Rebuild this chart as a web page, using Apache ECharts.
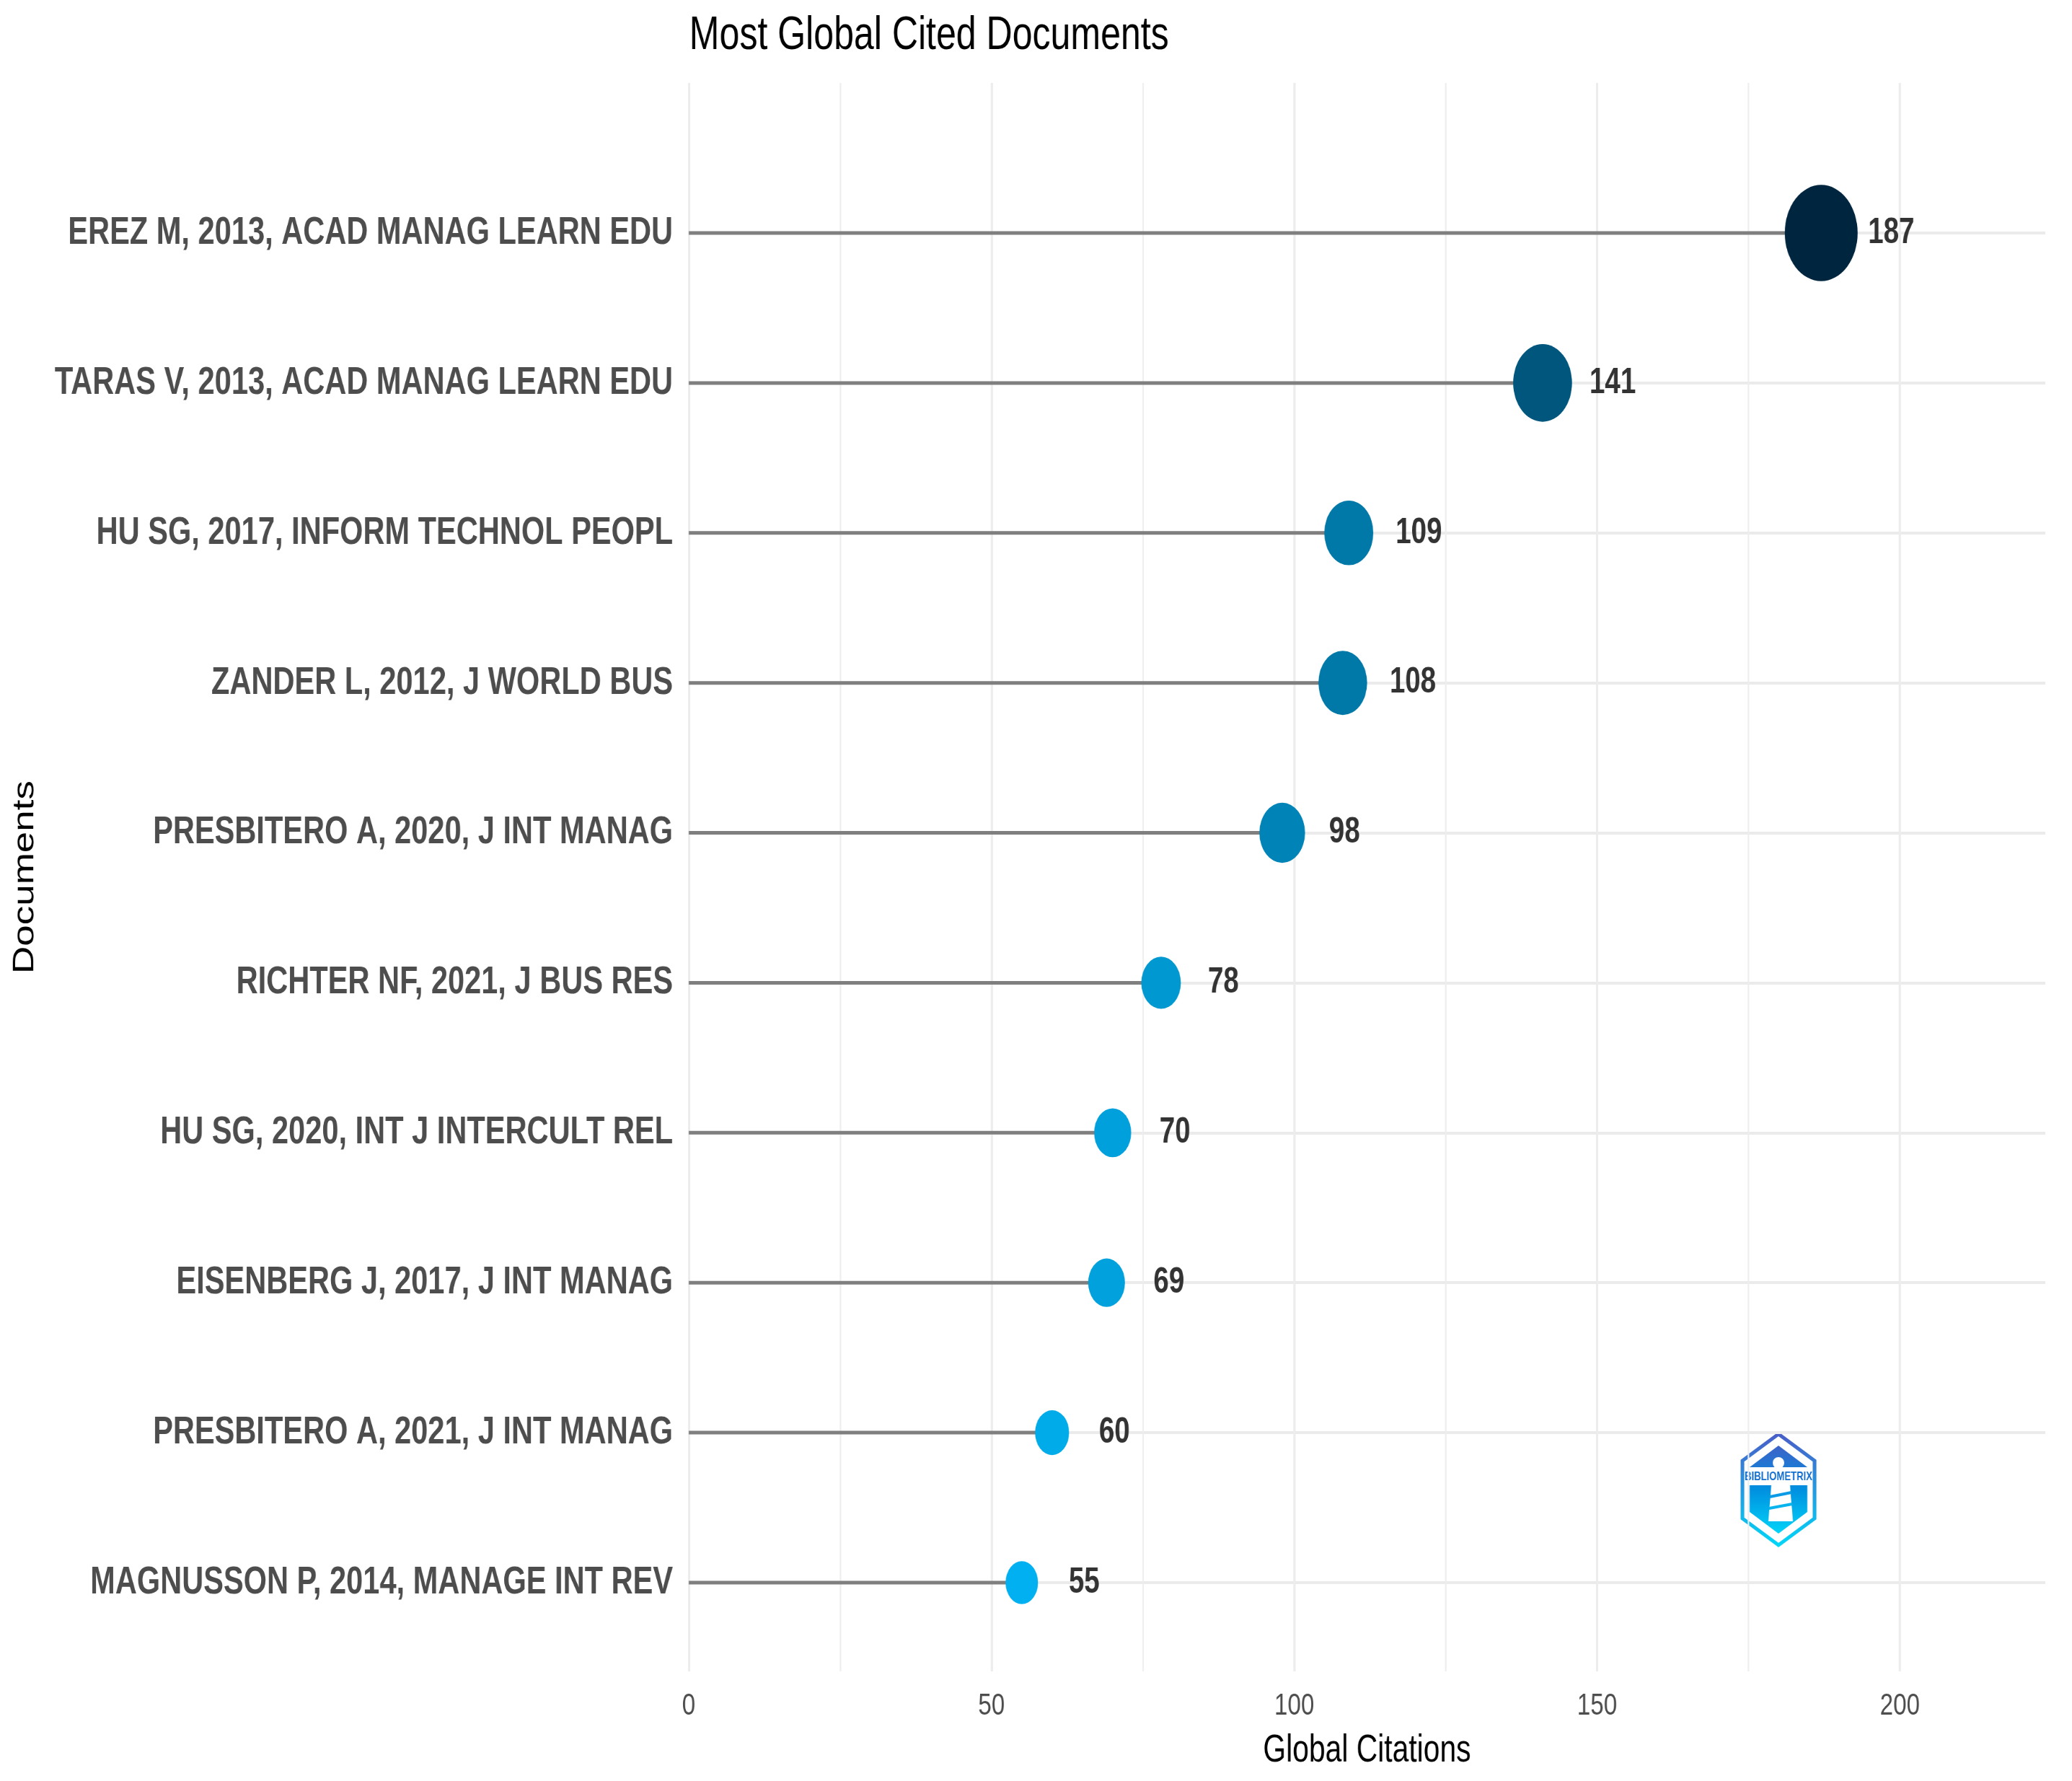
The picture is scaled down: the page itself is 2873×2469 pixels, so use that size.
<!DOCTYPE html>
<html>
<head>
<meta charset="utf-8">
<script src="https://cdn.jsdelivr.net/npm/echarts@6/dist/echarts.min.js"></script>
<style>
  html, body { margin: 0; padding: 0; background: #fff; overflow: hidden; }
  /* the source picture is squeezed sideways (narrow text, oval dots);
     draw wide and squeeze the chart the same way */
  #chart { width: 3731px; height: 2469px; transform: scaleX(0.77); transform-origin: 0 0; }
</style>
</head>
<body>
<div id="chart"></div>
<script>
// data, top row first
const documents = [
  'EREZ M, 2013, ACAD MANAG LEARN EDU',
  'TARAS V, 2013, ACAD MANAG LEARN EDU',
  'HU SG, 2017, INFORM TECHNOL PEOPL',
  'ZANDER L, 2012, J WORLD BUS',
  'PRESBITERO A, 2020, J INT MANAG',
  'RICHTER NF, 2021, J BUS RES',
  'HU SG, 2020, INT J INTERCULT REL',
  'EISENBERG J, 2017, J INT MANAG',
  'PRESBITERO A, 2021, J INT MANAG',
  'MAGNUSSON P, 2014, MANAGE INT REV'
]
const citations = [187, 141, 109, 108, 98, 78, 70, 69, 60, 55]
const xMax = 224
const majorStep = 50
const minorStep = 25

const S = 0.77 // horizontal squeeze, must match the css above
const px = v => v / S // screen px -> chart px along x
const font = "'Liberation Sans', Arial, sans-serif"
const lo = Math.min(...citations)
const hi = Math.max(...citations)

// dot width (on screen) grows linearly with citations, height 1.32x width
const dotSize = v => {
  const w = 45 + (v - lo) / (hi - lo) * 56
  return [px(w), w * 1.32]
}

const chart = echarts.init(document.getElementById('chart'))

chart.setOption({
  backgroundColor: '#ffffff',
  animation: false,
  title: {
    text: 'Most Global Cited Documents',
    left: px(952),
    top: 13,
    textStyle: { fontFamily: font, fontSize: 65, fontWeight: 'normal', color: '#000' }
  },
  grid: [
    { left: px(955), right: px(37), top: 323, bottom: 275, outerBoundsMode: 'none' },
    { left: px(955), right: px(37), top: 115, bottom: 152, outerBoundsMode: 'none' }
  ],
  xAxis: [
    { gridIndex: 0, type: 'value', min: 0, max: xMax, show: false },
    {
      gridIndex: 1, type: 'value', min: 0, max: xMax, interval: majorStep,
      name: 'Global Citations', nameLocation: 'middle', nameGap: 84,
      nameTextStyle: { fontFamily: font, fontSize: 53, color: '#000' },
      axisLine: { show: false }, axisTick: { show: false },
      axisLabel: { fontFamily: font, fontSize: 43, color: '#4d4d4d', margin: 27, showMaxLabel: false },
      splitLine: { show: true, showMaxLine: false, lineStyle: { color: '#ebebeb', width: px(3) } }
    },
    {
      gridIndex: 1, type: 'value', min: 0, max: xMax, interval: minorStep,
      axisLine: { show: false }, axisTick: { show: false }, axisLabel: { show: false },
      splitLine: { show: true, showMaxLine: false, lineStyle: { color: '#eeeeee', width: px(2) } }
    }
  ],
  yAxis: [
    {
      gridIndex: 0, type: 'category', data: documents, inverse: true, boundaryGap: false,
      axisLine: { show: false }, axisTick: { show: false },
      axisLabel: { fontFamily: font, fontSize: 54, fontWeight: 'bold', color: '#4d4d4d', margin: px(22) },
      splitLine: { show: true, lineStyle: { color: '#ebebeb', width: 4 } }
    },
    {
      gridIndex: 1, type: 'value',
      name: 'Documents', nameLocation: 'middle', nameGap: 1168, nameRotate: 90,
      nameTextStyle: { fontFamily: font, fontSize: 53, color: '#000' },
      axisLine: { show: false }, axisTick: { show: false }, axisLabel: { show: false },
      splitLine: { show: false }
    }
  ],
  visualMap: {
    type: 'continuous', show: false, seriesIndex: 1, dimension: 0,
    min: lo, max: hi,
    inRange: { color: ['#00b0f0', '#00263f'] }
  },
  series: [
    {
      type: 'bar', xAxisIndex: 0, yAxisIndex: 0,
      data: citations, barWidth: 5, clip: false, silent: true,
      itemStyle: { color: '#7f7f7f' }
    },
    {
      type: 'scatter', xAxisIndex: 0, yAxisIndex: 0, clip: false,
      data: citations.map((v, i) => [v, documents[i]]),
      symbolSize: val => dotSize(val[0]),
      itemStyle: { opacity: 1 },
      label: {
        show: true, position: 'inside', align: 'left', offset: [px(65), 0],
        formatter: p => p.value[0],
        fontFamily: font, fontSize: 50, fontWeight: 'bold', color: '#333333'
      }
    }
  ],
  graphic: [
    {
      // bibliometrix badge, drawn in screen px
      type: 'group', x: px(2466), y: 2065, scaleX: 1 / S, silent: true,
      children: [
        {
          type: 'polygon',
          shape: { points: [[0, -77], [50, -40], [50, 40], [0, 77], [-50, 40], [-50, -40]] },
          style: {
            fill: 'none', lineWidth: 5,
            stroke: new echarts.graphic.LinearGradient(0, 0, 0, 1, [
              { offset: 0, color: '#4a5cc8' }, { offset: 1, color: '#00d8f8' }
            ])
          }
        },
        {
          type: 'polygon',
          shape: { points: [[0, -61], [40, -31], [40, 31], [0, 61], [-40, 31], [-40, -31]] },
          style: {
            fill: new echarts.graphic.LinearGradient(0, 0, 0, 1, [
              { offset: 0, color: '#3d62c8' }, { offset: 0.5, color: '#0090e0' }, { offset: 1, color: '#00d4f8' }
            ])
          }
        },
        { type: 'rect', shape: { x: -47, y: -31, width: 94, height: 25 }, style: { fill: '#ffffff' } },
        { type: 'circle', shape: { cx: 0, cy: -37, r: 8 }, style: { fill: '#ffffff' } },
        {
          type: 'text', x: 0, y: -18, scaleX: S,
          style: {
            text: 'BIBLIOMETRIX', fill: '#1470d0', align: 'center', verticalAlign: 'middle',
            font: "bold 17px 'Liberation Sans', sans-serif"
          }
        },
        {
          type: 'polygon',
          shape: { points: [[-10, -6], [16, -6], [20, 44], [-14, 44]] },
          style: { fill: '#ffffff' }
        },
        { type: 'line', shape: { x1: -12, y1: 10, x2: 18, y2: 4 }, style: { stroke: '#0a9ae6', lineWidth: 4 } },
        { type: 'line', shape: { x1: -13, y1: 26, x2: 19, y2: 20 }, style: { stroke: '#08b4ee', lineWidth: 4 } }
      ]
    }
  ]
})
</script>
</body>
</html>
